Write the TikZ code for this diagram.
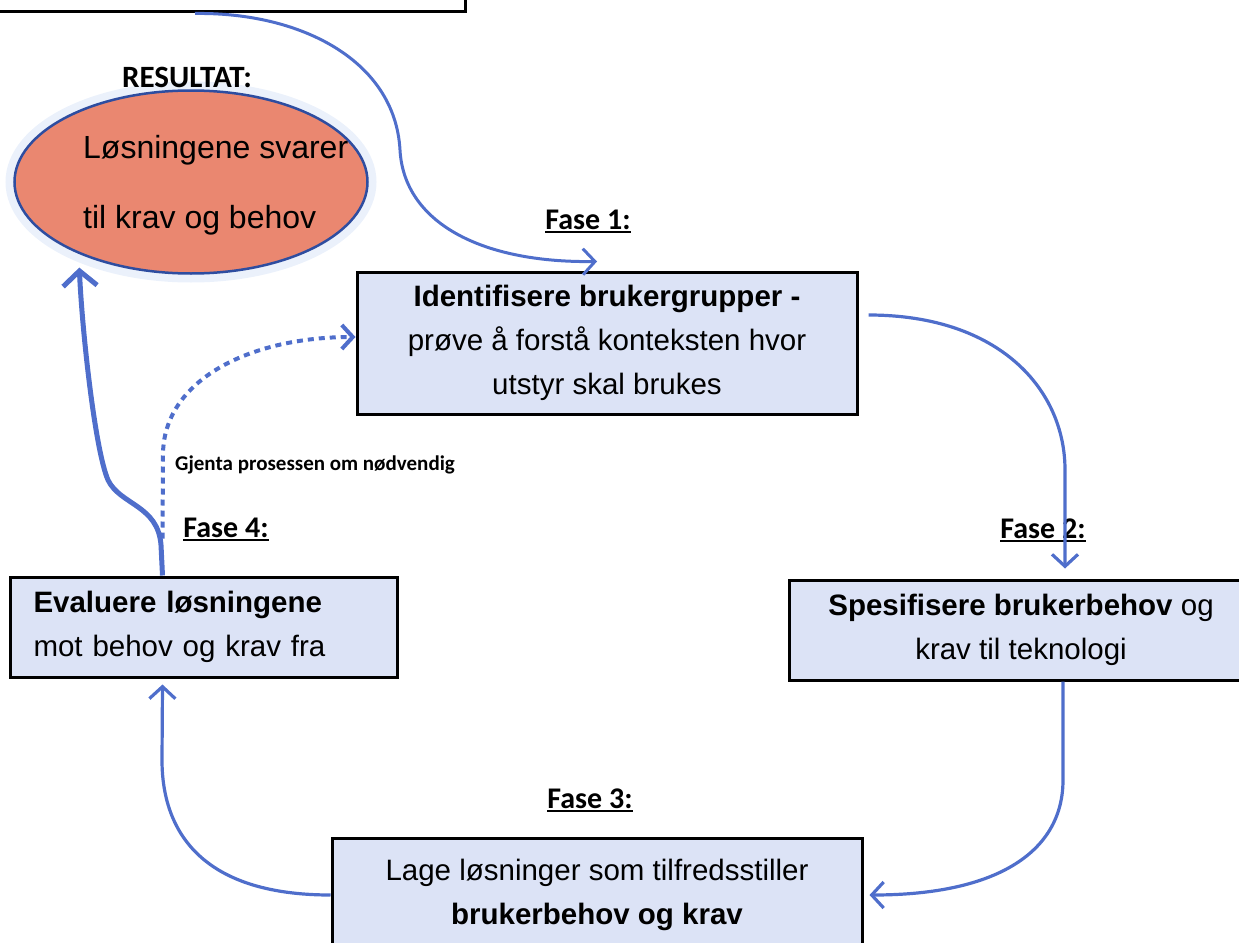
\documentclass[tikz,border=0pt]{standalone}
\usepackage{fontspec}
\setmainfont{Liberation Sans}
\newfontfamily\calibri{Carlito}
\usetikzlibrary{shapes.geometric,arrows.meta}

\definecolor{flowblue}{HTML}{4F6ECB}
\definecolor{boxfill}{HTML}{DCE3F6}
\definecolor{resfill}{HTML}{EA8770}
\definecolor{resline}{HTML}{2E4DA0}
\definecolor{glowblue}{HTML}{EBF1FB}

% thick underline for the phase titles
\newcommand{\faseul}[1]{\setbox0\hbox{#1}\rlap{\rule[-4pt]{\wd0}{2.2pt}}\box0}

\tikzset{
 fasebox/.style={draw=black, line width=3pt, fill=boxfill, inner sep=0pt, align=center, font=\fontsize{29.5}{44}\selectfont},
 faselabel/.style={anchor=base, inner sep=0pt, font=\calibri\bfseries\fontsize{30}{32}\selectfont},
 restext/.style={anchor=base west, inner sep=0pt, font=\fontsize{32}{32}\selectfont},
 flow/.style={draw=flowblue, line width=3.2pt, -{Straight Barb[length=12pt,width=26pt]}},
 loopback/.style={draw=flowblue, line width=4pt, dash pattern=on 6pt off 5pt, -{Straight Barb[length=11pt,width=24pt]}},
}

\begin{document}
\begin{tikzpicture}[x=1pt,y=-1pt]
\useasboundingbox (0,0) rectangle (1239,942);
\clip (0,0) rectangle (1239,942);

% the boxes
\node (topbox) [fasebox, fill=white, minimum width=485pt, minimum height=80pt] at (222.5,-28) {};
\node (f1) [fasebox, minimum width=500pt, minimum height=142pt] at (607,343) {\textbf{Identifisere brukergrupper -}\\prøve å forstå konteksten hvor\\utstyr skal brukes};
\node (f2) [fasebox, minimum width=464pt, minimum height=100pt] at (1021,630) {\textbf{Spesifisere brukerbehov} og\\krav til teknologi};
\node (f3) [fasebox, minimum width=530pt, minimum height=114pt] at (597,895) {Lage løsninger som tilfredsstiller\\\textbf{brukerbehov og krav}};
\node (f4) [fasebox, align=left, text width=340pt, inner xsep=23.5pt, minimum height=100pt] at (203.5,627) {\textbf{Evaluere løsningene}\\mot behov og krav fra};

% the result
\node (res) [ellipse, draw=resline, line width=2.5pt, fill=resfill, minimum width=353pt, minimum height=183pt, inner sep=0pt, preaction={draw=glowblue, line width=18pt}] at (191,182) {};
\node (res1) [restext] at (83,158) {Løsningene svarer};
\node (res2) [restext] at (83,228) {til krav og behov};
\node (resultat) [faselabel, font=\calibri\bfseries\fontsize{31}{32}\selectfont] at (187,87) {RESULTAT:};

% phase titles
\node (fase1) [faselabel] at (588,229) {\faseul{Fase 1:}};
\node (fase2) [faselabel] at (1043,538) {\faseul{Fase 2:}};
\node (fase3) [faselabel] at (590,808) {\faseul{Fase 3:}};
\node (fase4) [faselabel] at (226,537) {\faseul{Fase 4:}};
\node (gjenta) [anchor=base west, inner sep=0pt, font=\calibri\bfseries\fontsize{21}{22}\selectfont] at (175,470) {Gjenta prosessen om nødvendig};

% the cycle
\draw[flow, line width=3pt] ([xshift=-27.5pt]topbox.south) .. controls (300,12) and (395,60) .. (400,150) .. controls (404,222) and (480,263) .. ([shift={(-10pt,9pt)}]f1.north);
\draw[flow] ([shift={(10pt,28pt)}]f1.east) .. controls (1000,315) and (1065,390) .. (1065,470) -- ([shift={(44pt,10pt)}]f2.north);
\draw[flow] ([xshift=42pt]f2.south) -- (1063,780) .. controls (1063,850) and (1000,895) .. ([xshift=6pt]f3.east);
\draw[flow] (f3.west) .. controls (200,895) and (162,830) .. (162,760) -- ([shift={(-41pt,-6pt)}]f4.south);
\draw[flow, line width=5pt, -{Straight Barb[length=15pt,width=34pt]}] ([xshift=-41pt]f4.north) -- (161,545) .. controls (158,505) and (120,505) .. (108,480) .. controls (95,450) and (82,330) .. ([shift={(14pt,-20pt)}]res.south west);
\draw[loopback] ([shift={(-41pt,37pt)}]f4.north) -- (163,455) .. controls (163,380) and (250,337) .. ([yshift=6pt]f1.west);
\end{tikzpicture}
\end{document}
